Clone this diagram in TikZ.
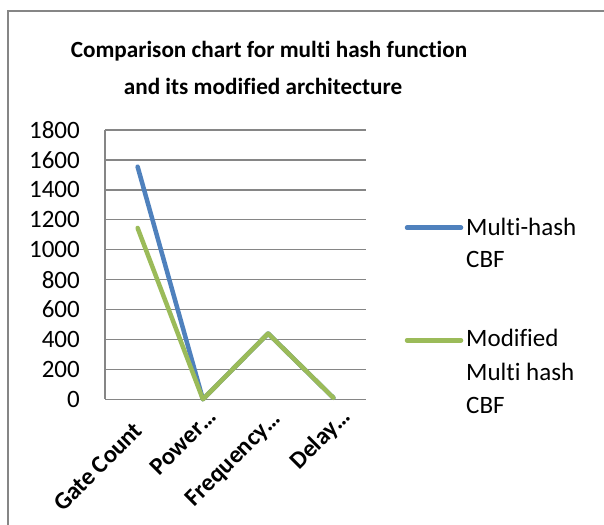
\documentclass[tikz,border=0pt]{standalone}
\usepackage{fontspec}
\setmainfont[Ligatures=NoCommon]{Carlito}
\definecolor{seriesblue}{HTML}{4F81BD}
\definecolor{seriesgreen}{HTML}{9BBB59}
\definecolor{axisgray}{HTML}{868686}
\begin{document}
\begin{tikzpicture}[x=1pt,y=-1pt,
  grid/.style={draw=axisgray,line width=1.3pt},
  frame/.style={draw=axisgray,line width=1.3pt},
  series/.style={line width=4.5pt,line cap=round,line join=round},
  ylab/.style={anchor=east,inner sep=0pt,font=\fontsize{25}{30}\selectfont},
  xlab/.style={anchor=base east,rotate=45,inner sep=0pt,font=\fontsize{24.5}{29}\selectfont\bfseries},
  legtext/.style={anchor=base west,inner sep=0pt,font=\fontsize{25}{30}\selectfont},
  titletext/.style={anchor=base,inner sep=0pt,font=\fontsize{23.2}{28}\selectfont\bfseries}]
\useasboundingbox (0,0) rectangle (604,524);
\clip (0,0) rectangle (604,524);
\fill[white] (0,0) rectangle (604,524);
\draw[frame] (8,11) rectangle (640,560);
% title
\node[titletext] (t1) at (269,57.5) {Comparison chart for multi hash function};
\node[titletext] (t2) at (263,95) {and its modified architecture};
% grid
\foreach \k/\lab in {0/0,1/200,2/400,3/600,4/800,5/1000,6/1200,7/1400,8/1600,9/1800}{
  \pgfmathsetmacro{\yy}{399.3-\k*29.92}
  \draw[grid] (105,\yy) -- (366,\yy);
  \node[ylab] (y\k) at (80,\yy) {\lab};
}
\draw[grid] (105,130) -- (105,399.3);
% data points
\coordinate (b1) at (137.6,166.7);
\coordinate (b2) at (202.9,399.3);
\coordinate (b3) at (268.1,333.5);
\coordinate (b4) at (333.4,397.8);
\coordinate (g1) at (137.6,228.0);
\coordinate (g2) at (202.9,399.3);
\coordinate (g3) at (268.1,333.5);
\coordinate (g4) at (333.4,397.8);
\draw[series,seriesblue] (b1) -- (b2) -- (b3) -- (b4);
\draw[series,seriesgreen] (g1) -- (g2) -- (g3) -- (g4);
% x labels
\node[xlab] (x1) at (144,432) {Gate Count};
\node[xlab] (x2) at (218,418) {Power…};
\node[xlab] (x3) at (282,420) {Frequency…};
\node[xlab] (x4) at (352,418) {Delay…};
% legend
\coordinate (lb1) at (407,227.7);
\coordinate (lb2) at (461,227.7);
\coordinate (lg1) at (407,340.3);
\coordinate (lg2) at (461,340.3);
\draw[series,seriesblue] (lb1) -- (lb2);
\draw[series,seriesgreen] (lg1) -- (lg2);
\node[legtext] (l1) at (466,235) {Multi-hash};
\node[legtext] (l2) at (466,267) {CBF};
\node[legtext] (l3) at (466,346.7) {Modified};
\node[legtext] (l4) at (466,380) {Multi hash};
\node[legtext] (l5) at (466,413) {CBF};
\end{tikzpicture}
\end{document}
